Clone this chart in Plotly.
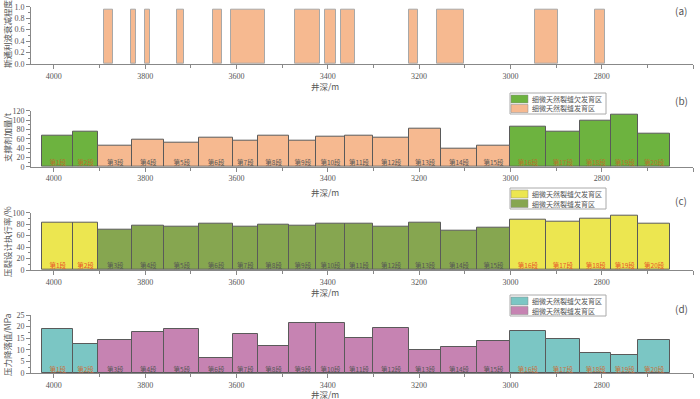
import plotly.graph_objects as go

# ---------------- data ----------------
# segment boundaries (depth, m): deep end and shallow end of each frac stage
seg_start = [4025, 3958, 3903, 3828, 3758, 3681, 3608, 3553, 3484, 3425,
             3363, 3300, 3222, 3151, 3074, 3000, 2923, 2847, 2779, 2720]
seg_end = [3958, 3903, 3828, 3758, 3681, 3608, 3553, 3484, 3425, 3363,
           3300, 3222, 3151, 3074, 3000, 2923, 2847, 2779, 2720, 2650]
seg_labels = ["第%d段" % i for i in range(1, 21)]
# True = 细微天然裂缝欠发育区
underdev = [True, True] + [False] * 13 + [True] * 5

# (a) Stoneley wave attenuation intervals
stoneley_start = [3890, 3831, 3801, 3731, 3652, 3611, 3471, 3407, 3372, 3222, 3161, 2946, 2814]
stoneley_end = [3871, 3819, 3790, 3714, 3632, 3537, 3416, 3382, 3341, 3202, 3102, 2896, 2792]
stoneley_val = [0.94] * 13

proppant = [67, 74, 44, 57, 52, 63, 55, 66, 56, 64, 66, 62, 81, 39, 44, 85, 76, 98, 111, 70]
execution = [82, 82.5, 71, 77, 75, 81, 76, 79, 77, 81, 80, 76, 82, 69, 73, 87, 85, 90, 94, 81]
pressure_drop = [18.9, 12.4, 14.1, 17.7, 19.0, 6.6, 16.9, 11.7, 21.4, 21.4,
                 15.0, 19.3, 10.0, 11.3, 13.7, 18.0, 14.9, 8.9, 7.9, 14.1]

x_ticks = [4000, 3800, 3600, 3400, 3200, 3000, 2800, 2600]
legend_names = ["细微天然裂缝欠发育区", "细微天然裂缝发育区"]

# ---------------- style ----------------
W, H = 700, 399
CJK = "Noto Sans CJK SC"
NUMF = "Liberation Serif"
ORANGE = "#F6B990"
GRAYTXT = "#555555"

def px_x(p):
    return p / W

def px_y(p):
    return 1 - p / H

mid = [(a + b) / 2 for a, b in zip(seg_start, seg_end)]
wid = [a - b for a, b in zip(seg_start, seg_end)]

fig = go.Figure()

# panel (a)
s_mid = [(a + b) / 2 for a, b in zip(stoneley_start, stoneley_end)]
s_wid = [a - b for a, b in zip(stoneley_start, stoneley_end)]
fig.add_trace(go.Bar(x=s_mid, y=stoneley_val, width=s_wid, xaxis="x", yaxis="y",
                     marker=dict(color=ORANGE, line=dict(color="#a8a8a8", width=1)),
                     showlegend=False, hoverinfo="skip"))

panels = [
    # (values, xaxis, yaxis, underdev color, dev color, highlighted label color)
    (proppant, "x2", "y2", "#6DB33F", ORANGE, "#B8702C"),
    (execution, "x3", "y3", "#ECE650", "#86A650", "#E8542A"),
    (pressure_drop, "x4", "y4", "#7BC6C4", "#C683B2", "#C8703A"),
]

for vals, xa, ya, c_und, c_dev, lab_col in panels:
    for flag, col, name in [(True, c_und, legend_names[0]), (False, c_dev, legend_names[1])]:
        idx = [i for i in range(20) if underdev[i] == flag]
        fig.add_trace(go.Bar(
            x=[mid[i] for i in idx], y=[vals[i] for i in idx], width=[wid[i] for i in idx],
            xaxis=xa, yaxis=ya, name=name, showlegend=False,
            marker=dict(color=col, line=dict(color="#5a5a5a", width=1)),
            hoverinfo="skip"))
    fig.add_trace(go.Scatter(
        x=mid, y=[0] * 20, xaxis=xa, yaxis=ya, mode="text", text=seg_labels,
        textposition="top center",
        textfont=dict(family=CJK, size=6.5,
                      color=[lab_col if u else GRAYTXT for u in underdev]),
        showlegend=False, hoverinfo="skip"))

# axes
x_dom = [px_x(31), px_x(693)]
y_doms = [
    (6.7, 64),
    (110.7, 166.7),
    (212.7, 270),
    (315, 373.3),
]
y_ranges = [[0, 1], [0, 120], [0, 100], [0, 25]]
y_dticks = [0.2, 20, 20, 5]
y_titles = ["斯通利波衰减程度", "支撑剂加量/t", "压裂设计执行率/%", "压力降落值/MPa"]
ytitle_y = [34, 137, 242, 345]
letters = ["(a)", "(b)", "(c)", "(d)"]
letter_y = [10, 100, 200, 308]
xtitle_y = [86, 192, 292, 394]
legend_top = [None, 93, 188, 295]

layout = dict(
    width=W, height=H, margin=dict(l=0, r=0, t=0, b=0, autoexpand=False),
    paper_bgcolor="white", plot_bgcolor="white",
    barmode="overlay", bargap=0, showlegend=False,
    font=dict(family=NUMF, size=8, color=GRAYTXT),
    annotations=[], shapes=[],
)

for k in range(4):
    sx = "" if k == 0 else str(k + 1)
    top, bot = y_doms[k]
    layout["xaxis" + sx] = dict(
        domain=x_dom, range=[4050, 2600], anchor="y" + sx, automargin=False,
        tickvals=x_ticks, ticks="outside", ticklen=4, tickcolor="#888888",
        showline=True, linecolor="#888888", linewidth=1, showgrid=False, zeroline=False,
        minor=dict(dtick=100, ticks="outside", ticklen=3, tickcolor="#888888", showgrid=False),
        tickfont=dict(family=NUMF, size=8, color=GRAYTXT),
    )
    layout["yaxis" + sx] = dict(
        domain=[px_y(bot), px_y(top)], range=y_ranges[k], anchor="x" + sx, automargin=False,
        dtick=y_dticks[k], tick0=0, ticks="outside", ticklen=4, tickcolor="#888888",
        tickformat=".1f" if k == 0 else "d",
        showline=True, linecolor="#888888", linewidth=1, showgrid=False, zeroline=False,
        minor=dict(dtick=y_dticks[k] / 2, ticks="outside", ticklen=2, tickcolor="#888888"),
        tickfont=dict(family=NUMF, size=8, color=GRAYTXT),
    )
    layout["annotations"].append(dict(
        text=y_titles[k], xref="paper", yref="paper", x=px_x(7), y=px_y(ytitle_y[k]),
        textangle=-90, showarrow=False, xanchor="center", yanchor="middle",
        font=dict(family=CJK, size=8.5, color=GRAYTXT)))
    layout["annotations"].append(dict(
        text="井深/m", xref="paper", yref="paper", x=px_x(325), y=px_y(xtitle_y[k]),
        showarrow=False, xanchor="center", yanchor="middle",
        font=dict(family=CJK, size=8.5, color=GRAYTXT)))
    layout["annotations"].append(dict(
        text=letters[k], xref="paper", yref="paper", x=px_x(681), y=px_y(letter_y[k]),
        showarrow=False, xanchor="center", yanchor="middle",
        font=dict(family=CJK, size=10, color=GRAYTXT)))

# compact legends (panels b-d)
for k in range(1, 4):
    _, _, _, c_und, c_dev, _ = panels[k - 1]
    t = legend_top[k]
    layout["shapes"].append(dict(
        type="rect", xref="paper", yref="paper",
        x0=px_x(510), x1=px_x(606), y0=px_y(t + 21), y1=px_y(t),
        line=dict(color="#aaaaaa", width=1), fillcolor="white", layer="above"))
    for j, (col, name) in enumerate([(c_und, legend_names[0]), (c_dev, legend_names[1])]):
        ry = t + 2 + j * 9.5
        layout["shapes"].append(dict(
            type="rect", xref="paper", yref="paper",
            x0=px_x(511), x1=px_x(528), y0=px_y(ry + 8), y1=px_y(ry),
            line=dict(color="#888888", width=0.5), fillcolor=col, layer="above"))
        layout["annotations"].append(dict(
            text=name, xref="paper", yref="paper", x=px_x(530), y=px_y(ry + 4),
            showarrow=False, xanchor="left", yanchor="middle",
            font=dict(family=CJK, size=7, color=GRAYTXT)))

fig.update_layout(**layout)
fig.write_html("out.html", config={"displayModeBar": False},
               post_script="document.body.style.margin='0';document.body.style.overflow='hidden';")
